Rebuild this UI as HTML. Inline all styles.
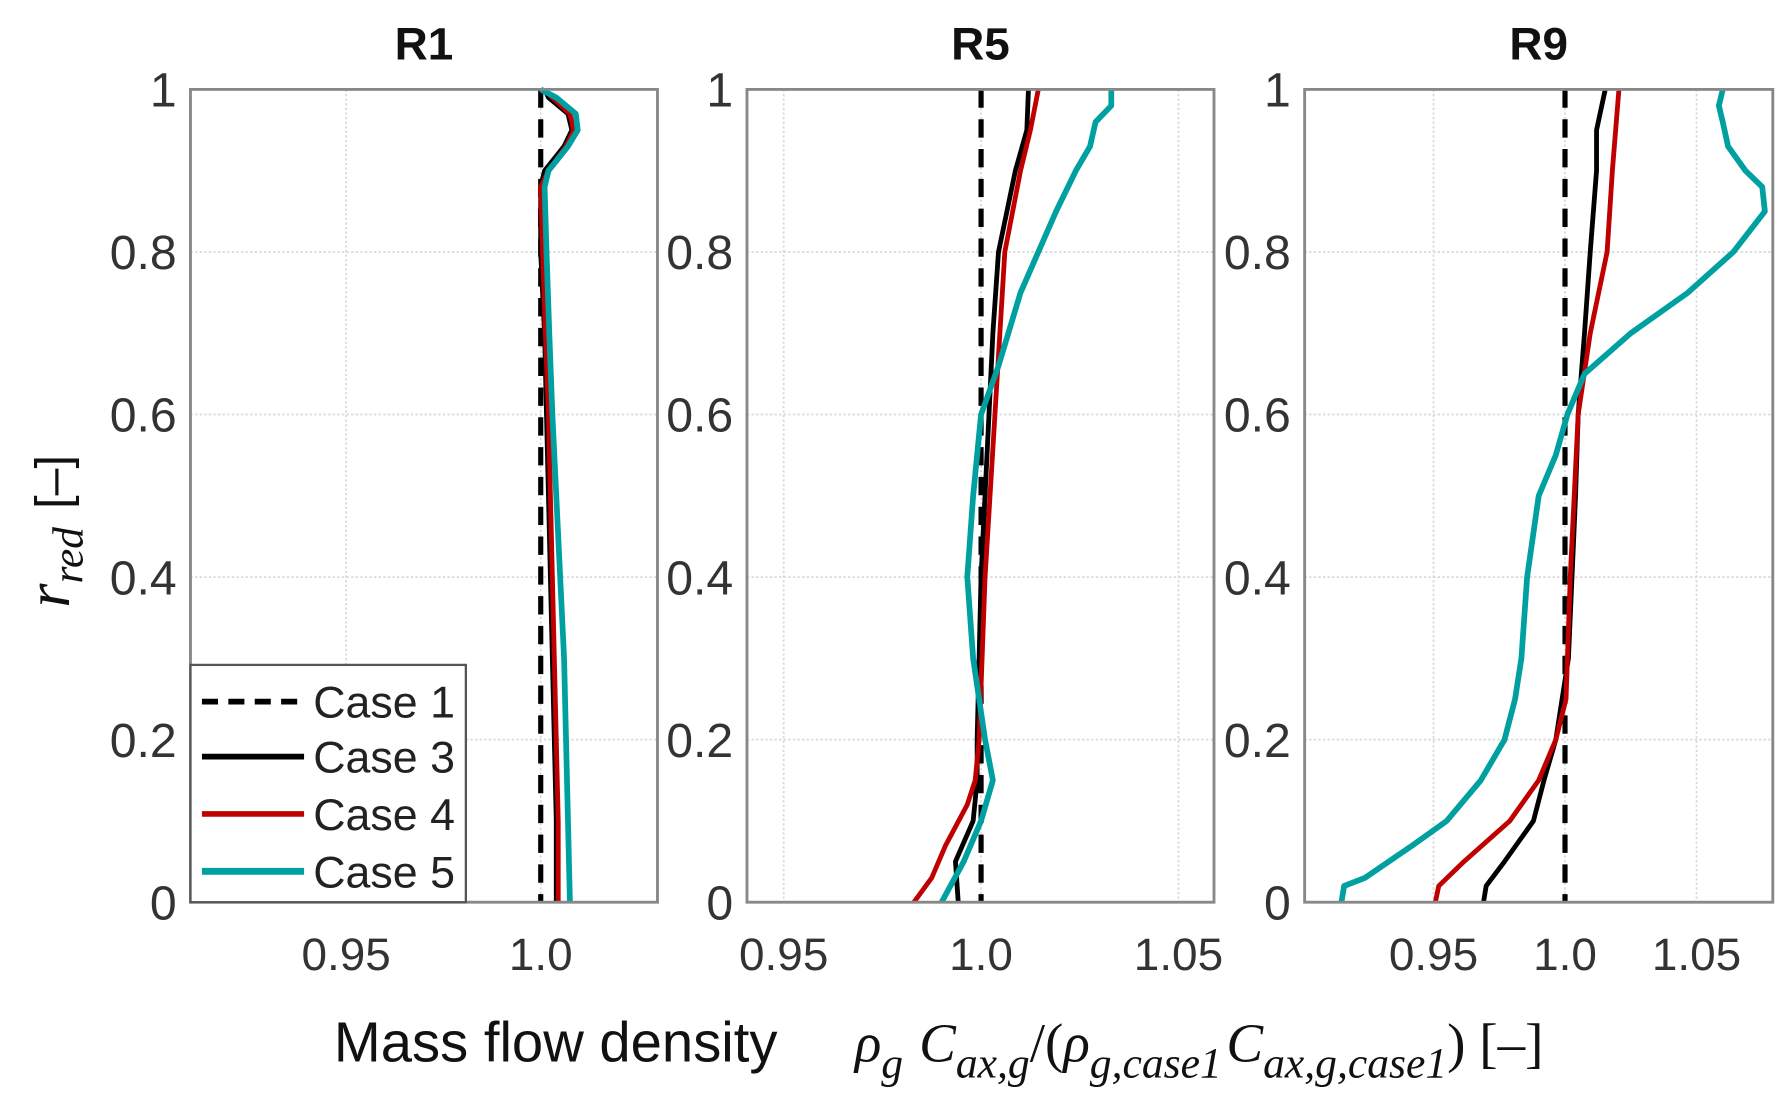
<!DOCTYPE html>
<html><head><meta charset="utf-8"><style>
html,body{margin:0;padding:0;background:#fff}
svg{display:block}
</style></head><body>
<svg id="chart" width="1790" height="1112" viewBox="0 0 1560 970" preserveAspectRatio="none" xmlns="http://www.w3.org/2000/svg" font-family="Liberation Sans, Arial, sans-serif"></svg>
<script>
const yTicks=[0,0.2,0.4,0.6,0.8,1];
const yTickLabels=["0","0.2","0.4","0.6","0.8","1"];
const panelTitles=["R1","R5","R9"];
const xTicksR1=[0.95,1.0];
const xTicksR5=[0.95,1.0,1.05];
const xTicksR9=[0.95,1.0,1.05];
const xTickLabelsR1=["0.95","1.0"];
const xTickLabelsR5=["0.95","1.0","1.05"];
const xTickLabelsR9=["0.95","1.0","1.05"];
const caseNames=["Case 1","Case 3","Case 4","Case 5"];
// R1
const r1R=[0,0.1,0.2,0.3,0.4,0.5,0.6,0.7,0.8,0.88,0.9,0.93,0.95,0.97,0.99,1.0];
const r1Case3=[1.004,1.004,1.0035,1.003,1.0025,1.002,1.0015,1.001,1.0,1.0,1.001,1.006,1.008,1.007,1.002,1.001];
const r1Case4=[1.0045,1.0045,1.004,1.0035,1.003,1.0025,1.002,1.0012,1.0005,1.0,1.002,1.0065,1.0085,1.0075,1.003,1.001];
const r1Case5=[1.0075,1.007,1.0065,1.006,1.005,1.004,1.003,1.0022,1.0015,1.001,1.002,1.007,1.0095,1.009,1.004,1.0];
// R5
const r5R3=[0,0.05,0.1,0.15,0.2,0.4,0.6,0.7,0.8,0.9,0.95,1.0];
const r5Case3=[0.9942,0.9935,0.998,0.999,0.999,1.0,1.002,1.003,1.0044,1.0087,1.0116,1.012];
const r5R4=[0,0.03,0.07,0.12,0.15,0.2,0.4,0.6,0.8,0.9,0.95,1.0];
const r5Case4=[0.983,0.9875,0.991,0.9965,0.9985,0.9995,1.001,1.0035,1.006,1.010,1.0125,1.0145];
const r5R5=[0,0.05,0.1,0.15,0.2,0.3,0.4,0.5,0.6,0.66,0.75,0.8,0.85,0.9,0.93,0.96,0.98,1.0];
const r5Case5=[0.990,0.9956,1.0,1.003,1.001,0.998,0.9965,0.998,1.0,1.0044,1.010,1.0145,1.019,1.024,1.0276,1.029,1.033,1.033];
// R9
const r9R3=[0,0.02,0.05,0.1,0.15,0.2,0.3,0.5,0.6,0.7,0.8,0.9,0.95,1.0];
const r9Case3=[0.969,0.970,0.977,0.988,0.992,0.9965,1.0013,1.004,1.005,1.0074,1.0096,1.012,1.012,1.0153];
const r9R4=[0,0.02,0.05,0.1,0.15,0.2,0.25,0.4,0.6,0.7,0.8,0.9,1.0];
const r9Case4=[0.9507,0.952,0.9616,0.979,0.990,0.9965,1.0004,1.002,1.005,1.0096,1.016,1.018,1.0205];
const r9R5=[0,0.02,0.03,0.07,0.1,0.15,0.2,0.25,0.3,0.4,0.5,0.55,0.6,0.65,0.7,0.75,0.8,0.85,0.88,0.9,0.93,0.96,0.98,1.0];
const r9Case5=[0.915,0.916,0.924,0.942,0.955,0.968,0.977,0.981,0.9834,0.9856,0.990,0.9965,1.0009,1.0074,1.025,1.0467,1.064,1.076,1.075,1.0686,1.062,1.060,1.0585,1.060];

const NS="http://www.w3.org/2000/svg";
const svg=document.getElementById('chart');
function mk(tag,attrs,parent){const e=document.createElementNS(NS,tag);for(const k in attrs)e.setAttribute(k,attrs[k]);(parent||svg).appendChild(e);return e;}
const TOP=78,BOT=787;
const panels=[
 {x0:166,x1:573,min:0.91,max:1.03,ticks:xTicksR1,labels:xTickLabelsR1,
  series:[[r1R,r1Case3,'#000'],[r1R,r1Case4,'#c00000'],[r1R,r1Case5,'#00a0a0']]},
 {x0:651,x1:1058,min:0.9407,max:1.059,ticks:xTicksR5,labels:xTickLabelsR5,
  series:[[r5R3,r5Case3,'#000'],[r5R4,r5Case4,'#c00000'],[r5R5,r5Case5,'#00a0a0']]},
 {x0:1137,x1:1545,min:0.901,max:1.079,ticks:xTicksR9,labels:xTickLabelsR9,
  series:[[r9R3,r9Case3,'#000'],[r9R4,r9Case4,'#c00000'],[r9R5,r9Case5,'#00a0a0']]}
];
const seriesNames=['case-3','case-4','case-5'];
panels.forEach((p,pi)=>{
 const g=mk('g',{});
 
 
 const xs=v=>p.x0+(v-p.min)/(p.max-p.min)*(p.x1-p.x0);
 const ys=v=>BOT-v*(BOT-TOP);
 yTicks.forEach((t,i)=>{
  if(t>0&&t<1){const l=mk('line',{x1:p.x0,x2:p.x1,y1:ys(t),y2:ys(t),stroke:'#d8d8d8','stroke-width':1.5,'stroke-dasharray':'2 2'},g);
  }
  const tl=mk('text',{x:p.x0-12,y:ys(t)+15,'text-anchor':'end','font-size':42,fill:'#333'},g);
  tl.textContent=yTickLabels[i];
  
 });
 p.ticks.forEach((t,i)=>{
  const l=mk('line',{x1:xs(t),x2:xs(t),y1:TOP,y2:BOT,stroke:'#d8d8d8','stroke-width':1.5,'stroke-dasharray':'2 2'},g);
  
  const tl=mk('text',{x:xs(t),y:846,'text-anchor':'middle','font-size':40,fill:'#333'},g);
  tl.textContent=p.labels[i];
  
 });
 const c1=mk('line',{x1:xs(1.0),x2:xs(1.0),y1:TOP,y2:BOT,stroke:'#000','stroke-width':4.5,'stroke-dasharray':'16 10'},g);
 
 p.series.forEach((s,si)=>{
  const d=s[0].map((r,i)=>(i?'L':'M')+xs(s[1][i]).toFixed(1)+','+ys(r).toFixed(1)).join('');
  const pa=mk('path',{d:d,fill:'none',stroke:s[2],'stroke-width':si==2?5:4.2,'stroke-linejoin':'round'},g);
  
 });
 const fr=mk('rect',{x:p.x0,y:TOP,width:p.x1-p.x0,height:BOT-TOP,fill:'none',stroke:'#888','stroke-width':2.5},g);
 
 const tt=mk('text',{x:(p.x0+p.x1)/2,y:52,'text-anchor':'middle','font-size':40,'font-weight':'bold',fill:'#111'},g);
 tt.textContent=panelTitles[pi];
 
});
const lg=mk('g',{});

const lb=mk('rect',{x:166,y:580,width:240,height:207,fill:'#fff',stroke:'#555','stroke-width':2},lg);

const lgCols=['#000','#000','#c00000','#00a0a0'];
const lgYs=[612,660,710,760];
caseNames.forEach((n,i)=>{
 const l=mk('line',{x1:176,x2:265,y1:lgYs[i],y2:lgYs[i],stroke:lgCols[i],'stroke-width':i==3?6:5},lg);
 if(i==0)l.setAttribute('stroke-dasharray','14 9');
 
 const t=mk('text',{x:273,y:lgYs[i]+14,'font-size':39,fill:'#222'},lg);
 t.textContent=n;
 
});
</script>
<svg style="position:absolute;left:0;top:0" width="1790" height="1112" viewBox="0 0 1560 970" preserveAspectRatio="none" xmlns="http://www.w3.org/2000/svg">
 <text transform="translate(60,530) rotate(-90)" fill="#111"><tspan style="font-family:'Liberation Serif',serif;font-style:italic" font-size="54">r</tspan><tspan style="font-family:'Liberation Serif',serif;font-style:italic" font-size="38" dy="12">red</tspan><tspan dy="-12" dx="16" style="font-family:'Liberation Sans',sans-serif" font-size="42">[–]</tspan></text>
 <text x="291" y="926" font-size="49" fill="#111" style="font-family:'Liberation Sans',sans-serif">Mass flow density</text>
 <text x="745" y="926" font-size="48" fill="#111" style="font-family:'Liberation Serif',serif;font-style:italic">ρ<tspan font-size="38" dy="14">g</tspan><tspan dy="-14" dx="14">C</tspan><tspan font-size="38" dy="14">ax,g</tspan><tspan dy="-14" style="font-style:normal">/(</tspan>ρ<tspan font-size="38" dy="14">g,case1</tspan><tspan dy="-14" dx="4">C</tspan><tspan font-size="38" dy="14">ax,g,case1</tspan><tspan dy="-14" style="font-style:normal">) [–]</tspan></text>
</svg>
</body></html>
